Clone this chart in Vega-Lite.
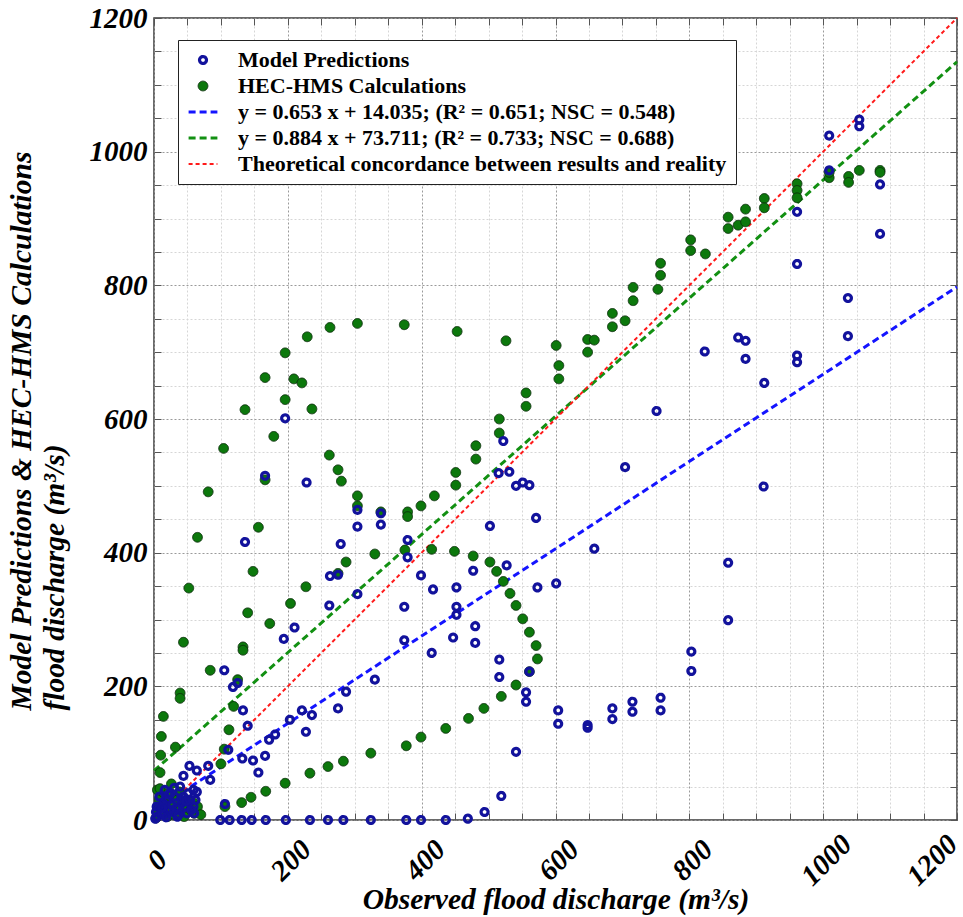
{
  "$schema": "https://vega.github.io/schema/vega-lite/v6.json",
  "width": 803,
  "height": 802,
  "autosize": {"type": "none"},
  "padding": {"left": 154, "top": 18, "right": 6, "bottom": 97},
  "background": "white",
  "config": {
    "font": "Liberation Serif",
    "view": {"stroke": "#3a3a3a", "strokeWidth": 1.5},
    "legend": {
      "labelFont": "Liberation Serif",
      "labelFontSize": 22,
      "labelFontWeight": "bold",
      "labelColor": "#000",
      "strokeColor": "#222",
      "fillColor": "#fff",
      "padding": 9,
      "rowPadding": 4,
      "labelOffset": 24,
      "symbolOffset": 5,
      "labelLimit": 700,
      "cornerRadius": 0
    }
  },
  "datasets": {
    "lines": [
      {"s": "B", "x": 0, "y": 14.035}, {"s": "B", "x": 1200, "y": 797.635},
      {"s": "G", "x": 0, "y": 73.711}, {"s": "G", "x": 1200, "y": 1134.511},
      {"s": "R", "x": 0, "y": 0}, {"s": "R", "x": 1200, "y": 1200}
    ],
    "pts": [
      {"s":"H","x":5,"y":45},{"s":"H","x":8,"y":30},{"s":"H","x":15,"y":40},{"s":"H","x":20,"y":25},{"s":"H","x":25,"y":35},{"s":"H","x":30,"y":20},{"s":"H","x":35,"y":30},{"s":"H","x":40,"y":15},{"s":"H","x":45,"y":25},{"s":"H","x":50,"y":20},{"s":"H","x":55,"y":15},{"s":"H","x":60,"y":10},{"s":"H","x":10,"y":10},{"s":"H","x":20,"y":5},{"s":"H","x":30,"y":8},{"s":"H","x":45,"y":5},{"s":"H","x":5,"y":15},{"s":"H","x":50,"y":30},{"s":"H","x":60,"y":25},{"s":"H","x":38,"y":42},{"s":"H","x":26,"y":54},{"s":"H","x":65,"y":20},{"s":"H","x":70,"y":8},{"s":"H","x":3,"y":3},{"s":"H","x":15,"y":15},
      {"s":"H","x":9,"y":47},{"s":"H","x":9,"y":71},{"s":"H","x":10,"y":97},{"s":"H","x":11,"y":125},{"s":"H","x":14,"y":155},{"s":"H","x":32,"y":109},{"s":"H","x":39,"y":190},{"s":"H","x":39,"y":182},{"s":"H","x":44,"y":266},{"s":"H","x":52,"y":347},{"s":"H","x":65,"y":423},{"s":"H","x":81,"y":491},{"s":"H","x":84,"y":224},{"s":"H","x":100,"y":84},{"s":"H","x":105,"y":106},{"s":"H","x":112,"y":135},{"s":"H","x":119,"y":170},{"s":"H","x":125,"y":210},{"s":"H","x":133,"y":259},{"s":"H","x":133,"y":254},{"s":"H","x":140,"y":310},{"s":"H","x":148,"y":372},{"s":"H","x":156,"y":438},{"s":"H","x":166,"y":509},{"s":"H","x":173,"y":294},{"s":"H","x":204,"y":324},{"s":"H","x":227,"y":349},
      {"s":"H","x":287,"y":386},{"s":"H","x":275,"y":369},{"s":"H","x":330,"y":398},{"s":"H","x":375,"y":404},{"s":"H","x":415,"y":405},{"s":"H","x":449,"y":402},{"s":"H","x":477,"y":395},{"s":"H","x":502,"y":386},{"s":"H","x":512,"y":372},{"s":"H","x":522,"y":357},{"s":"H","x":532,"y":339},{"s":"H","x":541,"y":321},{"s":"H","x":551,"y":301},{"s":"H","x":561,"y":281},{"s":"H","x":571,"y":261},{"s":"H","x":573,"y":241},{"s":"H","x":561,"y":222},
      {"s":"H","x":106,"y":20},{"s":"H","x":131,"y":26},{"s":"H","x":145,"y":34},{"s":"H","x":167,"y":43},{"s":"H","x":196,"y":55},{"s":"H","x":233,"y":70},{"s":"H","x":260,"y":80},{"s":"H","x":283,"y":88},{"s":"H","x":324,"y":100},{"s":"H","x":377,"y":111},{"s":"H","x":399,"y":124},{"s":"H","x":436,"y":137},{"s":"H","x":470,"y":152},{"s":"H","x":493,"y":167},{"s":"H","x":519,"y":185},{"s":"H","x":541,"y":202},
      {"s":"H","x":104,"y":556},{"s":"H","x":136,"y":614},{"s":"H","x":166,"y":662},{"s":"H","x":179,"y":574},{"s":"H","x":196,"y":629},{"s":"H","x":196,"y":699},{"s":"H","x":209,"y":660},{"s":"H","x":221,"y":654},{"s":"H","x":236,"y":615},{"s":"H","x":229,"y":723},{"s":"H","x":263,"y":737},{"s":"H","x":304,"y":743},{"s":"H","x":374,"y":741},{"s":"H","x":453,"y":731},{"s":"H","x":262,"y":546},{"s":"H","x":275,"y":524},{"s":"H","x":280,"y":507},{"s":"H","x":304,"y":485},{"s":"H","x":304,"y":470},{"s":"H","x":339,"y":461},{"s":"H","x":379,"y":461},{"s":"H","x":379,"y":454},{"s":"H","x":399,"y":470},{"s":"H","x":419,"y":485},{"s":"H","x":451,"y":520},{"s":"H","x":451,"y":501},{"s":"H","x":481,"y":560},{"s":"H","x":481,"y":540},{"s":"H","x":516,"y":600},{"s":"H","x":516,"y":579},{"s":"H","x":526,"y":717},{"s":"H","x":556,"y":639},{"s":"H","x":556,"y":619},{"s":"H","x":601,"y":710},{"s":"H","x":605,"y":680},{"s":"H","x":605,"y":660},{"s":"H","x":648,"y":719},{"s":"H","x":658,"y":718},{"s":"H","x":648,"y":700},{"s":"H","x":685,"y":758},{"s":"H","x":685,"y":738},{"s":"H","x":704,"y":747},{"s":"H","x":716,"y":797},{"s":"H","x":716,"y":777},{"s":"H","x":753,"y":794},{"s":"H","x":757,"y":833},{"s":"H","x":757,"y":815},{"s":"H","x":802,"y":868},{"s":"H","x":802,"y":852},{"s":"H","x":824,"y":847},{"s":"H","x":858,"y":902},{"s":"H","x":858,"y":885},{"s":"H","x":873,"y":890},{"s":"H","x":884,"y":914},{"s":"H","x":884,"y":895},{"s":"H","x":912,"y":930},{"s":"H","x":912,"y":916},{"s":"H","x":961,"y":952},{"s":"H","x":961,"y":942},{"s":"H","x":961,"y":931},{"s":"H","x":1009,"y":961},{"s":"H","x":1009,"y":969},{"s":"H","x":1038,"y":963},{"s":"H","x":1038,"y":954},{"s":"H","x":1054,"y":972},{"s":"H","x":1085,"y":972},{"s":"H","x":1085,"y":969},
      {"s":"M","x":99,"y":0},{"s":"M","x":113,"y":0},{"s":"M","x":131,"y":0},{"s":"M","x":146,"y":0},{"s":"M","x":167,"y":0},{"s":"M","x":197,"y":0},{"s":"M","x":233,"y":0},{"s":"M","x":260,"y":0},{"s":"M","x":283,"y":0},{"s":"M","x":324,"y":0},{"s":"M","x":377,"y":0},{"s":"M","x":399,"y":0},{"s":"M","x":436,"y":0},{"s":"M","x":469,"y":2},{"s":"M","x":494,"y":12},{"s":"M","x":519,"y":36},
      {"s":"M","x":4,"y":20},{"s":"M","x":5,"y":5},{"s":"M","x":9,"y":20},{"s":"M","x":11,"y":10},{"s":"M","x":14,"y":25},{"s":"M","x":19,"y":30},{"s":"M","x":21,"y":15},{"s":"M","x":24,"y":15},{"s":"M","x":29,"y":12},{"s":"M","x":31,"y":35},{"s":"M","x":39,"y":50},{"s":"M","x":41,"y":25},{"s":"M","x":41,"y":30},{"s":"M","x":46,"y":20},{"s":"M","x":49,"y":10},{"s":"M","x":51,"y":40},{"s":"M","x":54,"y":30},{"s":"M","x":59,"y":20},{"s":"M","x":59,"y":45},{"s":"M","x":60,"y":10},{"s":"M","x":64,"y":42},{"s":"M","x":2,"y":2},{"s":"M","x":8,"y":35},{"s":"M","x":15,"y":8},{"s":"M","x":35,"y":5},{"s":"M","x":25,"y":40},{"s":"M","x":16,"y":45},{"s":"M","x":3,"y":12},{"s":"M","x":12,"y":18},{"s":"M","x":18,"y":4},{"s":"M","x":27,"y":22},{"s":"M","x":33,"y":18},{"s":"M","x":37,"y":8},{"s":"M","x":44,"y":35},{"s":"M","x":48,"y":28},{"s":"M","x":56,"y":15},{"s":"M","x":62,"y":30},{"s":"M","x":22,"y":38},{"s":"M","x":30,"y":48},
      {"s":"M","x":44,"y":66},{"s":"M","x":53,"y":81},{"s":"M","x":64,"y":74},{"s":"M","x":81,"y":81},{"s":"M","x":84,"y":60},{"s":"M","x":106,"y":24},{"s":"M","x":105,"y":224},{"s":"M","x":111,"y":105},{"s":"M","x":118,"y":199},{"s":"M","x":125,"y":205},{"s":"M","x":132,"y":92},{"s":"M","x":133,"y":164},{"s":"M","x":140,"y":141},{"s":"M","x":148,"y":89},{"s":"M","x":156,"y":71},{"s":"M","x":166,"y":96},{"s":"M","x":172,"y":120},{"s":"M","x":181,"y":128},{"s":"M","x":203,"y":150},{"s":"M","x":221,"y":164},{"s":"M","x":236,"y":157},{"s":"M","x":227,"y":132},{"s":"M","x":194,"y":271},{"s":"M","x":210,"y":288},{"s":"M","x":136,"y":416},{"s":"M","x":166,"y":515},{"s":"M","x":196,"y":601},{"s":"M","x":228,"y":505},{"s":"M","x":263,"y":365},{"s":"M","x":275,"y":367},{"s":"M","x":262,"y":321},{"s":"M","x":279,"y":413},{"s":"M","x":287,"y":192},{"s":"M","x":275,"y":167},{"s":"M","x":304,"y":464},{"s":"M","x":304,"y":439},{"s":"M","x":304,"y":338},{"s":"M","x":330,"y":210},{"s":"M","x":339,"y":459},{"s":"M","x":339,"y":442},{"s":"M","x":374,"y":319},{"s":"M","x":374,"y":269},{"s":"M","x":379,"y":419},{"s":"M","x":379,"y":393},{"s":"M","x":399,"y":366},{"s":"M","x":417,"y":345},{"s":"M","x":415,"y":250},{"s":"M","x":447,"y":273},{"s":"M","x":452,"y":348},{"s":"M","x":452,"y":319},{"s":"M","x":452,"y":307},{"s":"M","x":477,"y":373},{"s":"M","x":480,"y":290},{"s":"M","x":480,"y":265},{"s":"M","x":502,"y":440},{"s":"M","x":515,"y":519},{"s":"M","x":531,"y":521},{"s":"M","x":522,"y":567},{"s":"M","x":541,"y":500},{"s":"M","x":551,"y":505},{"s":"M","x":561,"y":501},{"s":"M","x":571,"y":452},{"s":"M","x":527,"y":381},{"s":"M","x":573,"y":348},{"s":"M","x":601,"y":354},{"s":"M","x":658,"y":406},{"s":"M","x":516,"y":240},{"s":"M","x":516,"y":214},{"s":"M","x":561,"y":222},{"s":"M","x":556,"y":191},{"s":"M","x":556,"y":177},{"s":"M","x":541,"y":102},{"s":"M","x":604,"y":164},{"s":"M","x":604,"y":144},{"s":"M","x":648,"y":142},{"s":"M","x":648,"y":138},{"s":"M","x":685,"y":167},{"s":"M","x":685,"y":151},{"s":"M","x":715,"y":177},{"s":"M","x":715,"y":162},{"s":"M","x":757,"y":183},{"s":"M","x":757,"y":164},{"s":"M","x":803,"y":252},{"s":"M","x":803,"y":223},{"s":"M","x":858,"y":385},{"s":"M","x":858,"y":299},{"s":"M","x":911,"y":499},{"s":"M","x":704,"y":528},{"s":"M","x":751,"y":612},{"s":"M","x":823,"y":701},{"s":"M","x":873,"y":722},{"s":"M","x":884,"y":717},{"s":"M","x":884,"y":690},{"s":"M","x":912,"y":654},{"s":"M","x":961,"y":695},{"s":"M","x":961,"y":685},{"s":"M","x":961,"y":832},{"s":"M","x":961,"y":910},{"s":"M","x":1009,"y":1024},{"s":"M","x":1009,"y":972},{"s":"M","x":1054,"y":1048},{"s":"M","x":1054,"y":1038},{"s":"M","x":1037,"y":781},{"s":"M","x":1037,"y":724},{"s":"M","x":1085,"y":951},{"s":"M","x":1085,"y":877}
    ]
  },
  "resolve": {"axis": {"x": "independent", "y": "independent"}},
  "layer": [
    {
      "data": {"name": "lines"},
      "transform": [{"filter": "datum.s == 'B'"}],
      "mark": {"type": "line", "strokeCap": "butt", "stroke": "#1414ff", "strokeWidth": 3, "strokeDash": [7, 4]},
      "encoding": {
        "x": {
          "field": "x", "type": "quantitative",
          "scale": {"domain": [0, 1200], "nice": false, "zero": false},
          "axis": {
            "orient": "bottom",
            "values": [0,50,100,150,200,250,300,350,400,450,500,550,600,650,700,750,800,850,900,950,1000,1050,1100,1150,1200],
            "format": "d",
            "labelExpr": "datum.value % 200 === 0 ? datum.label : ''",
            "labelAngle": -45, "labelAlign": "center", "labelBaseline": "middle",
            "labelOffset": {"condition": {"test": "datum.value == 1200", "value": -25}, "value": 3},
            "labelFont": "Liberation Serif", "labelFontSize": 29, "labelFontStyle": "italic", "labelFontWeight": "bold", "labelColor": "#000",
            "labelPadding": 47, "labelFlush": false, "labelOverlap": false, "labelBound": false,
            "tickSize": -7, "tickColor": "#555", "tickWidth": 1,
            "domain": false,
            "grid": true, "gridDash": [2, 2], "gridWidth": 1,
            "gridColor": {"condition": {"test": "datum.value % 200 === 0", "value": "#9a9a9a"}, "value": "#d6d6d6"},
            "title": "Observed flood discharge (m³/s)",
            "titleFont": "Liberation Serif", "titleFontSize": 29.5, "titleFontStyle": "italic", "titleFontWeight": "bold", "titleColor": "#000",
            "titleBaseline": "alphabetic", "titleY": 88
          }
        },
        "y": {
          "field": "y", "type": "quantitative",
          "scale": {"domain": [0, 1200], "nice": false, "zero": false},
          "axis": {
            "orient": "left",
            "values": [0,50,100,150,200,250,300,350,400,450,500,550,600,650,700,750,800,850,900,950,1000,1050,1100,1150,1200],
            "format": "d",
            "labelExpr": "datum.value % 200 === 0 ? datum.label : ''",
            "labelAlign": "right", "labelBaseline": "middle",
            "labelFont": "Liberation Serif", "labelFontSize": 29, "labelFontStyle": "italic", "labelFontWeight": "bold", "labelColor": "#000",
            "labelPadding": 14, "labelFlush": false, "labelOverlap": false, "labelBound": false,
            "tickSize": -7, "tickColor": "#555", "tickWidth": 1,
            "domain": false,
            "grid": true, "gridDash": [2, 2], "gridWidth": 1,
            "gridColor": {"condition": {"test": "datum.value % 200 === 0", "value": "#9a9a9a"}, "value": "#d6d6d6"},
            "title": ["Model Predictions & HEC-HMS Calculations", "flood discharge (m³/s)"],
            "titleFont": "Liberation Serif", "titleFontSize": 29.5, "titleFontStyle": "italic", "titleFontWeight": "bold", "titleColor": "#000",
            "titleAngle": 270, "titleAlign": "left", "titleBaseline": "alphabetic",
            "titleX": -124, "titleY": 692, "titleLineHeight": 33
          }
        }
      }
    },
    {
      "data": {"name": "lines"},
      "transform": [{"filter": "datum.s == 'G'"}],
      "mark": {"type": "line", "strokeCap": "butt", "stroke": "#129012", "strokeWidth": 3, "strokeDash": [7, 4]},
      "encoding": {
        "x": {"field": "x", "type": "quantitative", "axis": null},
        "y": {"field": "y", "type": "quantitative", "axis": null}
      }
    },
    {
      "data": {"name": "lines"},
      "transform": [{"filter": "datum.s == 'R'"}],
      "mark": {"type": "line", "strokeCap": "butt", "stroke": "#ff1a1a", "strokeWidth": 2, "strokeDash": [4, 3]},
      "encoding": {
        "x": {"field": "x", "type": "quantitative", "axis": null},
        "y": {"field": "y", "type": "quantitative", "axis": null}
      }
    },
    {
      "data": {"name": "pts"},
      "mark": {"type": "point", "filled": true, "opacity": 1},
      "encoding": {
        "x": {
          "field": "x", "type": "quantitative",
          "axis": {
            "orient": "top",
            "values": [0,50,100,150,200,250,300,350,400,450,500,550,600,650,700,750,800,850,900,950,1000,1050,1100,1150,1200],
            "labels": false, "tickSize": -7, "tickColor": "#555", "grid": false, "domain": false, "title": null
          }
        },
        "y": {
          "field": "y", "type": "quantitative",
          "axis": {
            "orient": "right",
            "values": [0,50,100,150,200,250,300,350,400,450,500,550,600,650,700,750,800,850,900,950,1000,1050,1100,1150,1200],
            "labels": false, "tickSize": -7, "tickColor": "#555", "grid": false, "domain": false, "title": null
          }
        },
        "fill": {
          "field": "s", "type": "nominal", "title": null,
          "scale": {"domain": ["M","H","B","G","R"], "range": ["transparent","#0c780c","transparent","transparent","transparent"]},
          "legend": {"orient": "none", "legendX": 24, "legendY": 22, "title": null,
            "labelExpr": "datum.label == 'M' ? 'Model Predictions' : datum.label == 'H' ? 'HEC-HMS Calculations' : datum.label == 'B' ? ' y = 0.653 x + 14.035; (R² = 0.651; NSC = 0.548)' : datum.label == 'G' ? ' y = 0.884 x + 73.711; (R² = 0.733; NSC = 0.688)' : 'Theoretical concordance between results and reality'"}
        },
        "stroke": {
          "field": "s", "type": "nominal", "title": null,
          "scale": {"domain": ["M","H","B","G","R"], "range": ["#12129c","#0a300a","#1414ff","#129012","#ff1a1a"]},
          "legend": {"orient": "none", "legendX": 24, "legendY": 22, "title": null,
            "labelExpr": "datum.label == 'M' ? 'Model Predictions' : datum.label == 'H' ? 'HEC-HMS Calculations' : datum.label == 'B' ? ' y = 0.653 x + 14.035; (R² = 0.651; NSC = 0.548)' : datum.label == 'G' ? ' y = 0.884 x + 73.711; (R² = 0.733; NSC = 0.688)' : 'Theoretical concordance between results and reality'"}
        },
        "shape": {
          "field": "s", "type": "nominal", "title": null,
          "scale": {"domain": ["M","H","B","G","R"], "range": ["circle","circle","M-3.2,0H3.2","M-3.2,0H3.2","M-3.2,0H3.2"]},
          "legend": {"orient": "none", "legendX": 24, "legendY": 22, "title": null,
            "labelExpr": "datum.label == 'M' ? 'Model Predictions' : datum.label == 'H' ? 'HEC-HMS Calculations' : datum.label == 'B' ? ' y = 0.653 x + 14.035; (R² = 0.651; NSC = 0.548)' : datum.label == 'G' ? ' y = 0.884 x + 73.711; (R² = 0.733; NSC = 0.688)' : 'Theoretical concordance between results and reality'"}
        },
        "size": {
          "field": "s", "type": "nominal", "title": null,
          "scale": {"type": "ordinal", "domain": ["M","H","B","G","R"], "range": [48, 95, 81, 81, 81]},
          "legend": {"orient": "none", "legendX": 24, "legendY": 22, "title": null,
            "labelExpr": "datum.label == 'M' ? 'Model Predictions' : datum.label == 'H' ? 'HEC-HMS Calculations' : datum.label == 'B' ? ' y = 0.653 x + 14.035; (R² = 0.651; NSC = 0.548)' : datum.label == 'G' ? ' y = 0.884 x + 73.711; (R² = 0.733; NSC = 0.688)' : 'Theoretical concordance between results and reality'"}
        },
        "strokeWidth": {
          "field": "s", "type": "nominal", "title": null,
          "scale": {"type": "ordinal", "domain": ["M","H","B","G","R"], "range": [3.2, 1, 3, 3, 2]},
          "legend": {"orient": "none", "legendX": 24, "legendY": 22, "title": null,
            "labelExpr": "datum.label == 'M' ? 'Model Predictions' : datum.label == 'H' ? 'HEC-HMS Calculations' : datum.label == 'B' ? ' y = 0.653 x + 14.035; (R² = 0.651; NSC = 0.548)' : datum.label == 'G' ? ' y = 0.884 x + 73.711; (R² = 0.733; NSC = 0.688)' : 'Theoretical concordance between results and reality'"}
        },
        "strokeDash": {
          "field": "s", "type": "nominal", "title": null,
          "scale": {"domain": ["M","H","B","G","R"], "range": [[1,0],[1,0],[7,4],[7,4],[4,3]]},
          "legend": {"orient": "none", "legendX": 24, "legendY": 22, "title": null,
            "labelExpr": "datum.label == 'M' ? 'Model Predictions' : datum.label == 'H' ? 'HEC-HMS Calculations' : datum.label == 'B' ? ' y = 0.653 x + 14.035; (R² = 0.651; NSC = 0.548)' : datum.label == 'G' ? ' y = 0.884 x + 73.711; (R² = 0.733; NSC = 0.688)' : 'Theoretical concordance between results and reality'"}
        }
      }
    }
  ]
}
